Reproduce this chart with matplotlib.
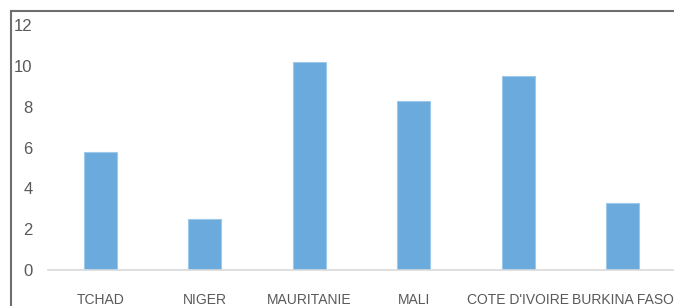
import matplotlib.pyplot as plt
from matplotlib.lines import Line2D

# valeurs
pays = ["TCHAD", "NIGER", "MAURITANIE", "MALI", "COTE D'IVOIRE", "BURKINA FASO"]
valeurs = [5.8, 2.5, 10.2, 8.3, 9.5, 3.3]
yticks = [0, 2, 4, 6, 8, 10, 12]

plt.rcParams['font.family'] = ['Liberation Sans', 'DejaVu Sans']

fig = plt.figure(figsize=(6.74, 3.06), dpi=100)
ax = fig.add_axes([48 / 674, 1 - 270 / 306, 627 / 674, 245 / 306])

ax.bar(range(len(pays)), valeurs, width=0.32, color='#6aaadc',
       edgecolor='#9cc8ea', linewidth=0.8, zorder=2)

ax.set_xlim(-0.5, len(pays) - 0.5)
ax.set_ylim(0, 12)
ax.set_yticks(yticks)
ax.set_xticks(range(len(pays)))
ax.set_xticklabels(pays)

for s in ['top', 'right', 'left']:
    ax.spines[s].set_visible(False)
ax.spines['bottom'].set_color('#d9d9d9')
ax.spines['bottom'].set_linewidth(1.2)

ax.tick_params(axis='y', length=0, pad=11, labelsize=12, labelcolor='#595959')
ax.tick_params(axis='x', length=0, pad=16.5, labelsize=10, labelcolor='#595959')

# cadre du graphique (bords gauche et haut visibles)
fig.add_artist(Line2D([11 / 674, 11 / 674], [0, 1 - 10.5 / 306],
                      transform=fig.transFigure, color='#6e6e6e', lw=1.5))
fig.add_artist(Line2D([11 / 674, 1], [1 - 10.5 / 306, 1 - 10.5 / 306],
                      transform=fig.transFigure, color='#6e6e6e', lw=1.5))

fig.savefig('out.png', dpi=100)
